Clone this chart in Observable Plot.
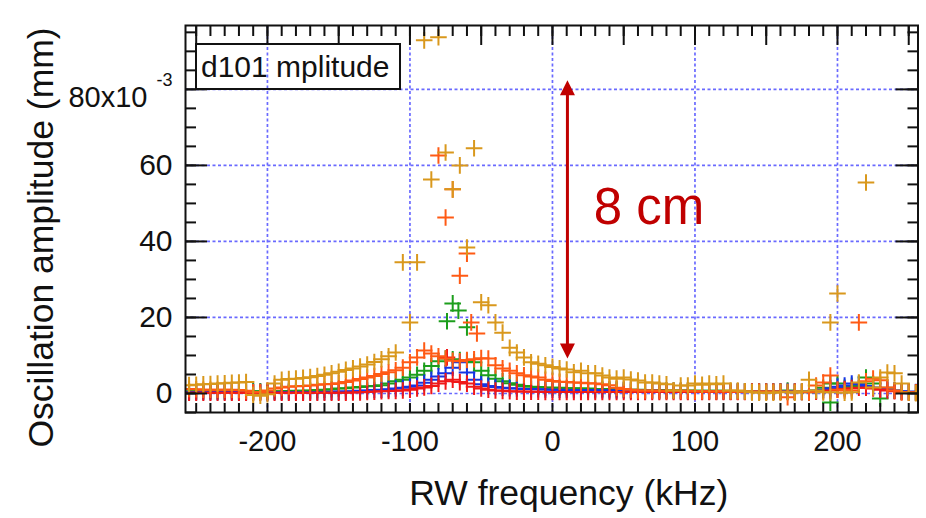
<!DOCTYPE html>
<html><head><meta charset="utf-8">
<script src="https://cdn.jsdelivr.net/npm/d3@7"></script>
<script src="https://cdn.jsdelivr.net/npm/@observablehq/plot@0.6"></script>
<style>
  html,body{margin:0;padding:0;background:#fff;}
  #chart svg{display:block;}
</style>
</head><body><div id="chart"></div>
<script>
// ---------- data ----------
const freq = [
 -255,-250,-245,-240,-235,-230,-225,-220,-215,-210,
 -205,-200,-195,-190,-185,-180,-175,-170,-165,-160,
 -155,-150,-145,-140,-135,-130,-125,-120,-115,-110,
 -105,-100,-95,-90,-85,-80,-75,-70,-65,-60,
 -55,-50,-45,-40,-35,-30,-25,-20,-15,-10,
 -5,0,5,10,15,20,25,30,35,40,
 45,50,55,60,65,70,75,80,85,90,
 95,100,105,110,115,120,125,130,135,140,
 145,150,155,160,165,170,175,180,185,190,
 195,200,205,210,215,220,225,230,235,240,
 245,250,255];

const goldAmp = [
 2.2,2.3,2.4,2.5,2.6,2.7,2.8,2.9,3.0,-0.4,
 -0.6,-0.2,2.6,3.6,3.8,3.9,4.1,4.3,4.6,4.9,
 5.3,5.7,6.2,6.6,7.1,7.6,8.3,9.0,9.8,10.8,
 34.5,18.7,34.5,92.9,56.3,93.7,63.4,53.7,60.0,38.4,
 64.5,24.0,23.2,18.7,16.0,12.0,10.8,9.5,8.2,7.8,
 7.4,7.0,6.6,6.3,5.6,6.0,5.3,5.3,4.7,4.2,
 3.9,4.2,3.7,3.4,2.9,2.9,2.6,2.4,0.8,2.1,
 2.1,2.6,2.3,2.6,2.4,2.6,0.8,0.8,0.6,0.3,
 0.2,0.2,0.2,0.3,0.4,0.2,0.6,3.6,0.8,0.3,
 0.3,26.3,0.2,0.3,2.9,55.5,1.6,4.2,5.5,5.3,
 2.6,0.2,0.1];
const goldExtraX = [195];
const goldExtraY = [18.7];

const orangeAmp = [
 1.2,1.1,1.0,1.0,1.0,1.0,1.0,0.9,0.7,0.3,
 0.4,0.8,1.3,1.6,1.8,1.9,2.0,2.1,2.3,2.4,
 2.5,2.7,3.0,3.4,3.8,4.2,4.6,5.1,5.6,6.1,
 6.8,8.2,9.5,11.3,10.5,9.8,9.2,8.6,8.5,8.8,
 9.0,9.3,9.2,7.4,6.6,6.0,5.3,4.8,4.5,4.2,
 3.6,3.3,3.1,3.0,2.9,2.8,2.7,2.6,2.4,2.2,
 1.5,1.2,1.0,0.8,0.8,0.8,0.7,0.7,0.7,0.7,
 0.7,0.6,0.6,0.6,0.6,0.6,0.5,0.5,0.5,0.5,
 0.5,0.5,0.5,0.5,-1.0,0.5,0.4,0.3,2.1,2.9,
 4.7,1.0,0.8,0.8,18.7,3.2,3.9,3.5,1.6,0.8,
 0.3,0.2,0.2];
const orangeExtraX = [-80,-70,-75,-60,-65,-57,-53];
const orangeExtraY = [62.6,53.7,46.3,36.8,31.0,18.7,15.8];

const greenAmp = [
 0.6,0.6,0.6,0.6,0.6,0.6,0.6,0.6,0.6,0.6,
 0.6,0.6,0.6,0.6,0.65,0.7,0.75,0.8,0.9,1.0,
 1.1,1.3,1.4,1.6,1.7,1.9,2.0,2.2,2.6,3.2,
 3.6,4.2,4.9,6.0,7.2,8.5,9.2,9.0,8.8,8.5,
 8.2,6.0,4.8,3.9,3.2,2.7,2.3,2.0,1.8,1.7,
 1.6,1.5,1.5,1.4,1.4,1.3,1.3,1.2,1.2,1.1,
 1.1,1.0,1.0,1.0,0.9,0.9,0.9,0.8,0.8,0.8,
 0.8,0.7,0.7,0.7,0.7,0.7,0.6,0.6,0.6,0.6,
 0.6,0.6,0.6,0.6,0.8,0.5,0.4,0.3,0.8,1.5,
 2.6,2.6,1.5,2.0,2.6,4.2,2.6,-1.3,1.5,0.8,
 0.5,0.4,0.3];
const greenExtraX = [-70,-66,-74,-60,195];
const greenExtraY = [23.7,21.8,19.0,17.4,-2.4];

const blueAmp = [
 0.4,0.4,0.4,0.4,0.4,0.4,0.4,0.4,0.4,0.4,
 0.4,0.4,0.4,0.4,0.4,0.4,0.4,0.4,0.4,0.4,
 0.45,0.5,0.55,0.6,0.7,0.8,0.9,1.0,1.1,1.3,
 1.5,1.8,2.1,2.8,3.6,4.5,5.3,6.8,8.2,5.5,
 3.6,2.4,2.0,1.7,1.5,1.4,1.3,1.2,1.15,1.1,
 1.05,1.0,1.0,0.95,0.95,0.9,0.9,0.85,0.85,0.8,
 0.8,0.8,0.75,0.75,0.7,0.7,0.7,0.65,0.65,0.6,
 0.6,0.6,0.6,0.55,0.55,0.55,0.5,0.5,0.5,0.5,
 0.5,0.5,0.5,0.5,0.5,0.5,0.55,0.6,0.7,1.0,
 1.4,1.8,2.1,2.6,2.4,2.0,1.6,1.2,1.0,0.8,
 0.6,0.5,0.4];

const redAmp = [
 0.2,0.2,0.2,0.2,0.2,0.2,0.2,0.2,0.2,0.2,
 0.2,0.2,0.2,0.2,0.2,0.2,0.2,0.2,0.2,0.2,
 0.2,0.2,0.2,0.25,0.3,0.4,0.5,0.6,0.65,0.7,
 0.8,1.0,1.3,1.6,2.0,2.6,3.2,3.6,3.0,2.6,
 1.8,1.3,1.0,0.8,0.7,0.6,0.5,0.5,0.45,0.45,
 0.4,0.4,0.4,0.4,0.4,0.4,0.4,0.4,0.4,0.4,
 0.4,0.4,0.4,0.4,0.4,0.4,0.4,0.4,0.4,0.4,
 0.4,0.4,0.4,0.4,0.4,0.4,0.4,0.4,0.4,0.4,
 0.4,0.4,0.4,0.4,0.4,0.4,0.4,0.4,0.5,0.6,
 0.8,1.0,1.2,1.4,1.5,1.5,1.3,1.0,0.8,0.6,
 0.4,0.3,0.3];
const redExtraX = [-74];
const redExtraY = [9.5];

const seriesColors = {gold:"#d9981c", orange:"#ff5a14", green:"#1c9e1c", blue:"#1434e4", red:"#f01818"};

const xTickLabels = [-200,-100,0,100,200];
const yTickLabels = [0,20,40,60];
const xGridTicks = [-200,-100,0,100,200];
const yGridTicks = [0,20,40,60,80];
const xMajorTicks = [-250,-200,-150,-100,-50,0,50,100,150,200,250];
const xMinorTicks = [-250,-240,-230,-220,-210,-200,-190,-180,-170,-160,-150,-140,-130,-120,-110,-100,-90,-80,-70,-60,-50,-40,-30,-20,-10,0,10,20,30,40,50,60,70,80,90,100,110,120,130,140,150,160,170,180,190,200,210,220,230,240,250];
const yMajorTicks = [0,20,40,60,80];
const yMinorTicks = [-5,0,5,10,15,20,25,30,35,40,45,50,55,60,65,70,75,80,85,90,95];

const xTitle = "RW frequency (kHz)";
const yTitle = "Oscillation amplitude (mm)";
const legendText = "d101 mplitude";
const noteText = "8 cm";
const noteX = 29;
const noteY = 48.8;
const arrowX = 10.5;
const arrowY1 = 9.2;
const arrowY2 = 82.4;

// ---------- build ----------
function rows(xs, ys){ return xs.map((x,i)=>({x, y: ys[i]})); }

const plusSymbol = {draw(ctx, size){ const r = Math.sqrt(size/Math.PI); ctx.moveTo(-r,0); ctx.lineTo(r,0); ctx.moveTo(0,-r); ctx.lineTo(0,r); }};
const triUp = {draw(ctx, size){ const r = Math.sqrt(size/Math.PI); ctx.moveTo(0,0); ctx.lineTo(-r,2*r); ctx.lineTo(r,2*r); ctx.closePath(); }};
const triDown = {draw(ctx, size){ const r = Math.sqrt(size/Math.PI); ctx.moveTo(0,0); ctx.lineTo(-r,-2*r); ctx.lineTo(r,-2*r); ctx.closePath(); }};

const W = 926, H = 518, mL = 185, mR = 8.5, mT = 25, mB = 106;
const fW = W - mL - mR, fH = H - mT - mB;

const series = [
  {data: rows(freq, greenAmp).concat(rows(greenExtraX, greenExtraY)), color: seriesColors.green},
  {data: rows(freq, blueAmp), color: seriesColors.blue},
  {data: rows(freq, redAmp).concat(rows(redExtraX, redExtraY)), color: seriesColors.red},
  {data: rows(freq, orangeAmp).concat(rows(orangeExtraX, orangeExtraY)), color: seriesColors.orange},
  {data: rows(freq, goldAmp).concat(rows(goldExtraX, goldExtraY)), color: seriesColors.gold}
];

const gridStyle = {stroke:"#6a6aff", strokeOpacity:1, strokeWidth:1.7, strokeDasharray:"3,2.5"};
const tickStyle = {stroke:"#111", strokeWidth:2};

const legendMark = (index, scales, values, dims) => {
  const g = d3.create("svg:g");
  g.append("rect").attr("x", dims.marginLeft + 11).attr("y", dims.marginTop + 19)
    .attr("width", 204).attr("height", 45).attr("fill","none").attr("stroke","#111").attr("stroke-width",2);
  g.append("text").attr("x", dims.marginLeft + 16).attr("y", dims.marginTop + 52)
    .attr("text-anchor","start").attr("font-size", 30).attr("fill","#111").text(legendText);
  return g.node();
};

const chart = Plot.plot({
  width: W, height: H,
  marginLeft: mL, marginRight: mR, marginTop: mT, marginBottom: mB,
  style: {fontFamily: "'Liberation Sans', Arial, sans-serif", background: "#fff", color: "#111"},
  x: {domain: [-257.5, 256.5]},
  y: {domain: [-5, 96.8]},
  marks: [
    Plot.gridX(xGridTicks, gridStyle),
    Plot.gridY(yGridTicks, gridStyle),
    ...series.map(s => Plot.dot(s.data, {x:"x", y:"y", symbol: plusSymbol, r: 8.3, stroke: s.color, fill: "none", strokeWidth: 2, clip: true})),
    Plot.frame({stroke:"#111", strokeWidth:2}),
    // bottom ticks
    Plot.tickX(xMinorTicks, {x: d=>d, insetTop: fH - 9, ...tickStyle}),
    // top ticks
    Plot.tickX(xMinorTicks, {x: d=>d, insetBottom: fH - 11, ...tickStyle}),
    Plot.tickX(xMajorTicks, {x: d=>d, insetBottom: fH - 20, ...tickStyle}),
    // left ticks
    Plot.tickY(yMinorTicks, {y: d=>d, insetRight: fW - 11, ...tickStyle}),
    Plot.tickY(yMajorTicks, {y: d=>d, insetRight: fW - 22, ...tickStyle}),
    // right ticks
    Plot.tickY(yMinorTicks, {y: d=>d, insetLeft: fW - 10, ...tickStyle}),
    Plot.tickY(yMajorTicks, {y: d=>d, insetLeft: fW - 22, ...tickStyle}),
    Plot.axisX(xTickLabels, {anchor:"bottom", tickSize:0, tickPadding:18, fontSize:29, tickFormat: d=>String(d), label:null}),
    Plot.axisY(yTickLabels, {anchor:"left", tickSize:0, tickPadding:13, fontSize:30, tickFormat: d=>String(d), label:null}),
    Plot.text([80], {y: d=>d, frameAnchor:"left", text: ()=>"80x10", textAnchor:"end", lineAnchor:"middle", dx:-38, dy:8, fontSize:29, fill:"#111"}),
    Plot.text([80], {y: d=>d, frameAnchor:"left", text: ()=>"-3", textAnchor:"end", lineAnchor:"middle", dx:-13, dy:-9, fontSize:18, fill:"#111"}),
    Plot.text([yTitle], {frameAnchor:"left", text: d=>d, rotate:-90, textAnchor:"middle", lineAnchor:"middle", dx:-144, dy:18.5, fontSize:35.5, fill:"#111"}),
    Plot.text([xTitle], {frameAnchor:"bottom", text: d=>d, textAnchor:"middle", lineAnchor:"middle", dx:17, dy:81, fontSize:35.5, fill:"#111"}),
    // annotation arrow
    Plot.ruleX([{x: arrowX, y1: arrowY2, y2: arrowY1}], {x:"x", y1:"y1", y2:"y2", stroke:"#c00000", strokeWidth:3, insetTop:10, insetBottom:10}),
    Plot.dot([{x: arrowX, y: arrowY2}], {x:"x", y:"y", symbol: triUp, r: 7.5, fill:"#c00000", stroke:"none"}),
    Plot.dot([{x: arrowX, y: arrowY1}], {x:"x", y:"y", symbol: triDown, r: 7.5, fill:"#c00000", stroke:"none"}),
    Plot.text([noteText], {x: ()=>noteX, y: ()=>noteY, text: d=>d, textAnchor:"start", lineAnchor:"middle", fontSize:51, fill:"#c00000"}),
    legendMark
  ]
});
document.getElementById("chart").appendChild(chart);
</script>
</body></html>
